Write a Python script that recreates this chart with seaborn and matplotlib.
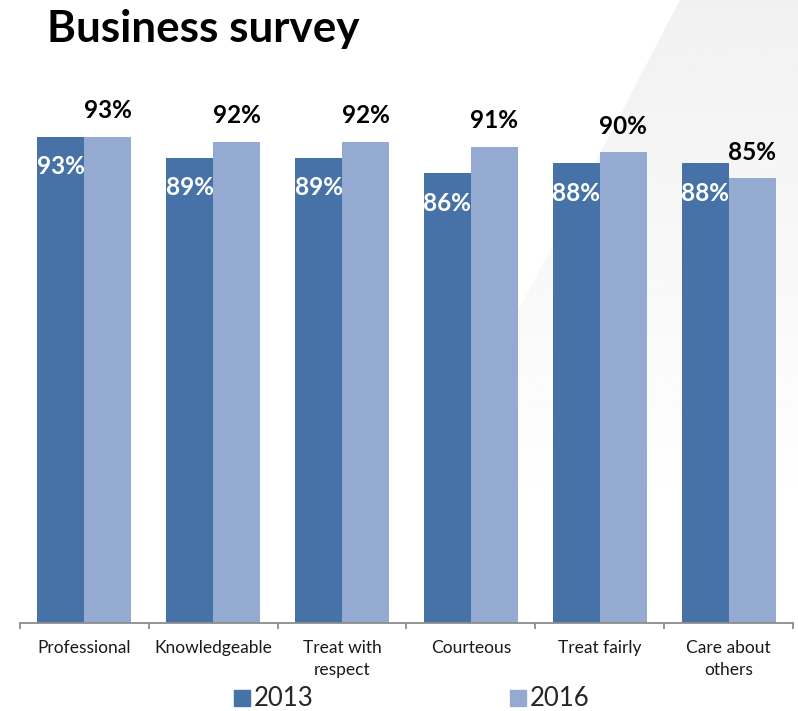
import numpy as np
import pandas as pd
import matplotlib
matplotlib.use("Agg")
import matplotlib.pyplot as plt
from matplotlib.patches import Polygon
from matplotlib.lines import Line2D
import seaborn as sns

# Survey results (% agreeing), by attribute and year
attributes = ["Professional", "Knowledgeable", "Treat with\nrespect",
              "Courteous", "Treat fairly", "Care about\nothers"]
scores_2013 = [93, 89, 89, 86, 88, 88]
scores_2016 = [93, 92, 92, 91, 90, 85]
years = ["2013", "2016"]

colors = {"2013": "#4672A8", "2016": "#95AAD1"}

df = pd.DataFrame({
    "attribute": attributes * 2,
    "score": scores_2013 + scores_2016,
    "year": [years[0]] * len(attributes) + [years[1]] * len(attributes),
})

sns.set_theme(style="white")
plt.rcParams["font.family"] = ["Lato", "DejaVu Sans"]

W, H = 798, 711
fig = plt.figure(figsize=(W / 100, H / 100), dpi=100)
fig.patch.set_facecolor("white")

# Soft grey diagonal panel in the background, fading out towards the bottom
bg = fig.add_axes([0, 0, 1, 1], zorder=-5)
bg.set_xlim(0, W)
bg.set_ylim(H, 0)
bg.axis("off")
shade = np.clip(np.linspace(0.945, 1.02, 256), 0, 1)
grad = shade[:, None] * np.ones((1, 2))
img = bg.imshow(grad, cmap="gray", vmin=0, vmax=1, extent=[0, W, H, 0],
                aspect="auto", interpolation="bilinear")
panel = Polygon([(680, 0), (W, 0), (W, H), (310, H)], closed=True,
                transform=bg.transData, facecolor="none", edgecolor="none")
bg.add_patch(panel)
img.set_clip_path(panel)

# Main bar chart
left, right = 20 / W, 793 / W
bottom, top = 1 - 623 / H, 1 - 100 / H
ax = fig.add_axes([left, bottom, right - left, top - bottom])
ax.set_facecolor("none")

sns.barplot(data=df, x="attribute", y="score", hue="year",
            palette=colors, width=0.73, gap=0, dodge=True,
            saturation=1, legend=False, linewidth=0, edgecolor="none", ax=ax)

ax.set_ylim(0, 100)
ax.set_xlim(-0.5, len(attributes) - 0.5)
ax.set_xlabel("")
ax.set_ylabel("")
ax.set_yticks([])
for s in ["top", "left", "right"]:
    ax.spines[s].set_visible(False)
ax.spines["bottom"].set_color("#8C8C8C")
ax.spines["bottom"].set_linewidth(1.3)

ax.set_xticks(range(len(attributes)))
ax.set_xticklabels(attributes, fontsize=12.5, color="#1a1a1a", linespacing=1.45)
ax.set_xticks(np.arange(-0.5, len(attributes), 1.0), minor=True)
ax.tick_params(axis="x", which="major", length=0, pad=12)
ax.tick_params(axis="x", which="minor", direction="out", length=4,
               width=1.3, color="#8C8C8C", bottom=True)

# Value labels: 2013 inside the bar (white), 2016 above the bar (black)
for bar, v in zip(ax.containers[0], scores_2013):
    cx = bar.get_x() + bar.get_width() / 2
    ax.text(cx, v - 5.8, f"{v}%", ha="center", va="center",
            fontsize=17.5, fontweight="bold", color="white")
for bar, v in zip(ax.containers[1], scores_2016):
    cx = bar.get_x() + bar.get_width() / 2
    ax.text(cx, v + 5.0, f"{v}%", ha="center", va="center",
            fontsize=17.5, fontweight="bold", color="black")

# Title
fig.text(47 / W, 1 - 29 / H, "Business survey", fontsize=31.7,
         fontweight="bold", color="black", ha="left", va="center")

# Legend
handles = [Line2D([], [], marker="s", linestyle="none", markersize=11.5,
                  markerfacecolor=colors[y], markeredgecolor=colors[y])
           for y in years]
fig.legend(handles, years, loc="center", bbox_to_anchor=(411 / W, 1 - 699 / H),
           ncol=2, frameon=False, fontsize=18.5, handlelength=0.7,
           handletextpad=0.12, columnspacing=7.6, borderpad=0)

fig.savefig("out.png", dpi=100)
